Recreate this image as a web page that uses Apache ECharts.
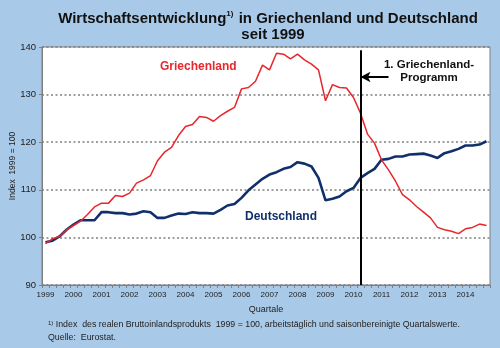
<!DOCTYPE html>
<html>
<head>
<meta charset="utf-8">
<script src="https://cdn.jsdelivr.net/npm/echarts@6/dist/echarts.min.js"></script>
<style>
  html, body { margin: 0; padding: 0; background: #a9c9e8; }
  #chart { width: 500px; height: 348px; }
</style>
</head>
<body>
<div id="chart"></div>
<script>
// Real GDP index (1999 = 100), quarterly, calendar- and seasonally adjusted
const years = [1999, 2000, 2001, 2002, 2003, 2004, 2005, 2006, 2007, 2008, 2009, 2010, 2011, 2012, 2013, 2014];
const quarters = ['Q1', 'Q2', 'Q3', 'Q4'];
const categories = years.flatMap(y => quarters.map(q => y + q));

const greece = [
  98.7, 99.7, 100.2, 101.6, 102.5, 103.4, 104.8, 106.4,
  107.2, 107.2, 108.8, 108.6, 109.3, 111.4, 112.1, 113.0,
  116.1, 117.9, 118.9, 121.4, 123.3, 123.7, 125.4, 125.2,
  124.4, 125.6, 126.5, 127.3, 131.2, 131.5, 132.8, 136.2,
  135.2, 138.7, 138.5, 137.5, 138.5, 137.3, 136.4, 135.2,
  128.7, 132.1, 131.5, 131.4, 129.4, 126.1, 121.7, 119.8,
  116.3, 114.2, 111.8, 109.0, 107.9, 106.5, 105.3, 104.1,
  102.1, 101.6, 101.3, 100.8, 101.8, 102.1, 102.8, 102.5
];

const germany = [
  99.0, 99.3, 100.2, 101.6, 102.7, 103.6, 103.6, 103.6,
  105.3, 105.3, 105.1, 105.1, 104.8, 105.0, 105.5, 105.3,
  104.1, 104.1, 104.6, 105.0, 104.9, 105.3, 105.1, 105.1,
  105.0, 105.8, 106.7, 107.0, 108.3, 109.9, 111.1, 112.3,
  113.2, 113.7, 114.4, 114.8, 115.8, 115.5, 114.9, 112.5,
  107.8, 108.1, 108.6, 109.7, 110.4, 112.5, 113.5, 114.4,
  116.3, 116.5, 117.0, 117.0, 117.4, 117.5, 117.6, 117.2,
  116.7, 117.7, 118.1, 118.6, 119.3, 119.3, 119.5, 120.2
];

const yTicks = [90, 100, 110, 120, 130, 140];

// First Greek rescue programme (May 2010) and its arrow
const programStart = '2010Q2';
const arrowFrom = '2011Q2';
const arrowLevel = 133.7;
const programTop = 139.3;

const FONT = "'Liberation Sans', Arial, sans-serif";
const RED = '#e8262b';
const NAVY = '#10306c';
const GREY = '#7f7f7f';

const chart = echarts.init(document.getElementById('chart'), null, { renderer: 'canvas' });

chart.setOption({
  backgroundColor: '#a9c9e8',
  animation: false,
  textStyle: { fontFamily: FONT },
  title: [
    {
      left: 263, top: 5, textAlign: 'center',
      text: '{t|Wirtschaftsentwicklung}{s|1)}{t| in Griechenland und Deutschland}',
      textStyle: {
        rich: {
          t: { fontFamily: FONT, fontWeight: 'bold', fontSize: 15, color: '#111', lineHeight: 18 },
          s: { fontFamily: FONT, fontWeight: 'bold', fontSize: 8, color: '#111', lineHeight: 18, verticalAlign: 'top', padding: [0, 1, 6, 0] }
        }
      }
    },
    {
      left: 268, top: 21, textAlign: 'center',
      text: 'seit 1999',
      textStyle: { fontFamily: FONT, fontWeight: 'bold', fontSize: 15, color: '#111', lineHeight: 18 }
    }
  ],
  grid: {
    left: 42, right: 10, top: 47, bottom: 63,
    outerBoundsMode: 'none',
    containLabel: false,
    show: true, backgroundColor: '#ffffff', borderColor: GREY, borderWidth: 1
  },
  xAxis: {
    type: 'category',
    data: categories,
    boundaryGap: true,
    name: 'Quartale',
    nameLocation: 'middle',
    nameGap: 20,
    nameMoveOverlap: false,
    nameTextStyle: { fontFamily: FONT, fontSize: 9, color: '#222' },
    axisLine: { show: true, lineStyle: { color: GREY, width: 1 } },
    axisTick: { show: true, interval: 0, alignWithLabel: false, length: 3, lineStyle: { color: GREY } },
    axisLabel: {
      interval: (i) => i % 4 === 0,
      formatter: (v) => v.slice(0, 4),
      fontFamily: FONT, fontSize: 8, color: '#222', margin: 6
    },
    splitLine: { show: false }
  },
  yAxis: {
    type: 'value',
    min: yTicks[0], max: yTicks[yTicks.length - 1], interval: 10,
    name: 'Index  1999 = 100',
    nameLocation: 'middle',
    nameGap: 25,
    nameMoveOverlap: false,
    nameTextStyle: { fontFamily: FONT, fontSize: 8.5, color: '#222' },
    axisLine: { show: true, lineStyle: { color: GREY, width: 1 } },
    axisTick: { show: true, length: 3, lineStyle: { color: GREY } },
    axisLabel: { fontFamily: FONT, fontSize: 9.5, color: '#222', margin: 6 },
    splitLine: { show: true, lineStyle: { color: '#808080', width: 1.5, type: [2, 2.5] } }
  },
  series: [
    {
      name: 'Deutschland',
      type: 'line',
      data: germany,
      symbol: 'none',
      lineStyle: { color: NAVY, width: 2.6 },
      itemStyle: { color: NAVY },
      z: 3
    },
    {
      name: 'Griechenland',
      type: 'line',
      data: greece,
      symbol: 'none',
      lineStyle: { color: RED, width: 1.5 },
      itemStyle: { color: RED },
      z: 4,
      markLine: {
        silent: true,
        animation: false,
        label: { show: false },
        lineStyle: { color: '#000', width: 2, type: 'solid' },
        symbol: ['none', 'none'],
        data: [
          [
            { coord: [programStart, yTicks[0]], symbol: 'none' },
            { coord: [programStart, programTop], symbol: 'none' }
          ],
          [
            { coord: [arrowFrom, arrowLevel], symbol: 'none' },
            { coord: [programStart, arrowLevel], symbol: 'arrow', symbolSize: [8, 10] }
          ]
        ]
      }
    }
  ],
  graphic: [
    {
      type: 'text', left: 160, top: 61,
      style: { text: 'Griechenland', fill: RED, font: "bold 12px " + FONT }
    },
    {
      type: 'text', left: 245, top: 211,
      style: { text: 'Deutschland', fill: NAVY, font: "bold 12px " + FONT }
    },
    {
      type: 'text', x: 429, y: 58,
      style: {
        text: '1. Griechenland-\nProgramm',
        fill: '#111', font: "bold 11.5px " + FONT,
        align: 'center', lineHeight: 13.5
      }
    },
    {
      type: 'text', x: 48, y: 320,
      style: {
        text: '{s|1)} Index  des realen Bruttoinlandsprodukts  1999 = 100, arbeitstäglich und saisonbereinigte Quartalswerte.',
        fill: '#222', font: "8.8px " + FONT,
        rich: {
          s: { fontSize: 6, fontFamily: FONT, verticalAlign: 'top', padding: [0, 0, 3, 0] }
        }
      }
    },
    {
      type: 'text', x: 48, y: 333,
      style: { text: 'Quelle:  Eurostat.', fill: '#222', font: "8.8px " + FONT }
    }
  ]
});
</script>
</body>
</html>
